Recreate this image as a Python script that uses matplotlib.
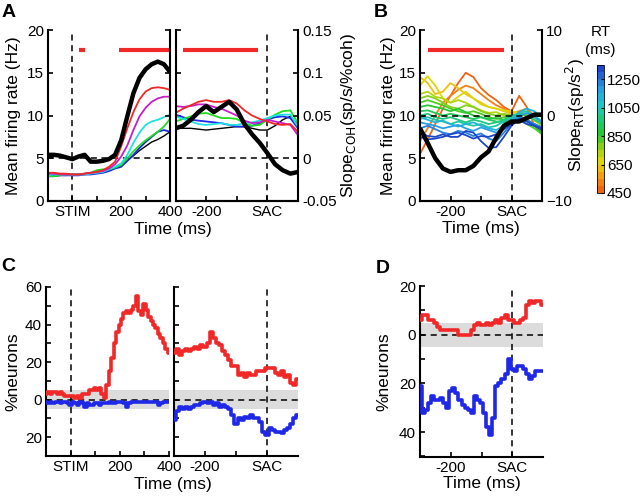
import numpy as np
import matplotlib
matplotlib.use('Agg')
import matplotlib.pyplot as plt
from matplotlib.colors import LinearSegmentedColormap, Normalize
import matplotlib.cm as cm

plt.rcParams['font.family'] = ['Liberation Sans', 'DejaVu Sans']
plt.rcParams['axes.linewidth'] = 1.5

# ---------------- data ----------------
# Panel A, stimulus-aligned (ms), firing rates (Hz) per coherence
t_stim = [-100, -75, -50, -25, 0, 25, 50, 75, 100, 125, 150, 175, 200, 225, 250, 275, 300, 325, 350, 375, 400]
a_stim_red = [3.3, 3.3, 3.2, 3.2, 3.1, 3.1, 3.2, 3.3, 3.4, 3.6, 4.0, 4.6, 6.4, 8.5, 10.4, 11.9, 12.8, 13.2, 13.3, 13.2, 13.0]
a_stim_magenta = [3.2, 3.2, 3.1, 3.1, 3.1, 3.1, 3.2, 3.3, 3.4, 3.5, 3.8, 4.3, 5.2, 6.5, 8.3, 9.9, 10.9, 11.6, 12.0, 12.2, 12.2]
a_stim_cyan = [3.0, 3.1, 3.1, 3.1, 3.1, 3.1, 3.1, 3.2, 3.3, 3.4, 3.7, 4.0, 4.4, 5.4, 6.8, 8.0, 8.9, 9.3, 9.5, 9.8, 10.1]
a_stim_green = [2.9, 2.9, 3.0, 3.1, 3.1, 3.1, 3.2, 3.3, 3.6, 3.7, 3.7, 3.9, 4.2, 5.0, 5.8, 6.5, 7.1, 7.6, 8.1, 8.7, 9.6]
a_stim_blue = [2.9, 2.9, 3.0, 3.0, 3.0, 3.0, 3.1, 3.1, 3.2, 3.3, 3.5, 3.8, 4.0, 4.7, 5.4, 6.2, 6.9, 7.5, 8.1, 8.3, 8.1]
a_stim_black = [2.9, 3.0, 3.0, 3.0, 3.1, 3.1, 3.1, 3.2, 3.3, 3.5, 3.7, 3.9, 4.1, 4.7, 5.3, 5.9, 6.4, 6.9, 7.2, 7.6, 8.1]
a_stim_slope = [0.004, 0.004, 0.003, 0.001, -0.001, 0.002, 0.004, -0.004, -0.004, -0.003, -0.001, 0.004, 0.021, 0.049, 0.076, 0.094, 0.104, 0.110, 0.113, 0.110, 0.101]

# Panel A, saccade-aligned
t_sac = [-300, -275, -250, -225, -200, -175, -150, -125, -100, -75, -50, -25, 0, 25, 50, 75, 100]
a_sac_red = [10.3, 10.8, 11.2, 11.6, 11.8, 11.6, 11.6, 11.8, 11.4, 10.6, 10.0, 9.6, 9.3, 9.0, 8.9, 9.0, 8.1]
a_sac_magenta = [11.1, 11.0, 11.1, 11.3, 11.3, 11.0, 10.8, 10.4, 10.0, 9.4, 9.1, 9.2, 9.5, 9.3, 9.1, 8.9, 7.7]
a_sac_cyan = [9.9, 9.6, 9.3, 9.0, 8.9, 9.0, 9.1, 8.9, 8.9, 9.1, 9.2, 9.4, 9.7, 10.0, 10.1, 10.1, 8.7]
a_sac_green = [9.3, 9.6, 9.9, 10.2, 10.3, 10.0, 9.7, 9.7, 9.6, 9.1, 8.8, 8.9, 9.5, 10.1, 10.5, 10.6, 9.1]
a_sac_blue = [10.1, 9.8, 9.5, 9.4, 9.3, 9.2, 9.1, 8.9, 8.7, 8.7, 8.8, 9.1, 9.5, 9.8, 9.9, 9.7, 8.5]
a_sac_black = [8.5, 8.5, 8.5, 8.4, 8.3, 8.4, 8.5, 8.6, 8.7, 8.7, 8.5, 8.3, 8.3, 8.8, 9.5, 9.9, 8.9]
a_sac_slope = [0.035, 0.038, 0.045, 0.054, 0.061, 0.054, 0.060, 0.066, 0.057, 0.040, 0.028, 0.018, 0.006, -0.007, -0.014, -0.018, -0.016]

# significance bars (ms)
a_sig_stim = [(28, 51), (193, 400)]
a_sig_sac = [(-275, -29)]
b_sig = [(-275, -25)]

# Panel B: rates per RT bin (saccade-aligned, t_sac)
b_rt = [450, 500, 600, 650, 700, 750, 800, 850, 900, 950, 1000, 1100, 1150, 1200, 1300, 1350]
b_rates = [
    [5.5, 7.2, 9.0, 10.8, 12.3, 13.8, 15.0, 14.5, 13.2, 12.4, 11.8, 11.0, 10.5, 12.3, 11.0, 8.8, 8.0],
    [7.0, 8.5, 10.0, 11.5, 12.3, 13.0, 13.5, 13.2, 12.5, 11.8, 11.2, 10.8, 10.3, 10.5, 10.8, 10.0, 9.0],
    [14.5, 13.8, 12.5, 12.8, 13.8, 13.2, 12.5, 12.0, 11.5, 11.0, 10.8, 10.5, 10.2, 10.0, 10.0, 9.5, 9.0],
    [13.5, 14.6, 13.5, 12.0, 11.5, 12.2, 12.8, 12.0, 11.3, 11.0, 10.8, 10.6, 10.5, 10.3, 10.0, 9.8, 9.2],
    [12.5, 12.8, 12.2, 12.0, 11.5, 11.8, 11.5, 11.0, 10.6, 10.3, 10.4, 10.0, 10.0, 10.2, 10.1, 9.4, 8.8],
    [12.0, 12.3, 12.0, 11.5, 11.0, 10.8, 11.2, 11.0, 10.5, 10.2, 10.0, 10.2, 10.0, 9.8, 9.5, 9.0, 8.5],
    [11.5, 11.8, 11.5, 11.2, 10.8, 10.5, 10.3, 10.5, 10.2, 9.8, 9.6, 9.8, 9.7, 9.5, 9.0, 8.5, 7.8],
    [11.0, 11.2, 11.0, 10.8, 10.5, 10.8, 10.4, 10.0, 9.8, 9.6, 9.7, 9.5, 9.4, 9.8, 9.5, 8.8, 8.0],
    [10.5, 10.6, 10.3, 10.0, 10.2, 10.0, 9.8, 9.6, 9.8, 9.5, 9.3, 9.2, 9.6, 9.8, 9.4, 9.0, 8.6],
    [10.0, 10.2, 9.8, 9.6, 9.8, 9.5, 9.2, 9.5, 9.3, 9.0, 9.2, 9.5, 10.0, 10.2, 10.0, 9.5, 9.0],
    [9.6, 9.8, 9.5, 9.3, 9.0, 9.3, 9.0, 8.8, 9.0, 8.6, 8.8, 9.3, 9.8, 10.3, 10.5, 10.0, 9.3],
    [9.8, 9.5, 9.2, 9.4, 9.0, 8.7, 9.0, 9.2, 8.8, 8.5, 8.3, 8.8, 9.5, 10.4, 10.8, 10.5, 9.8],
    [9.2, 9.0, 8.8, 8.5, 8.7, 8.9, 8.5, 8.2, 8.6, 8.3, 8.0, 8.5, 9.3, 10.0, 10.3, 9.8, 9.2],
    [8.5, 8.8, 8.4, 8.0, 7.8, 8.2, 8.0, 7.6, 7.9, 7.3, 7.0, 8.0, 9.0, 9.8, 9.5, 9.0, 8.6],
    [8.0, 7.6, 7.5, 7.8, 7.5, 7.5, 8.2, 8.0, 7.0, 6.2, 6.3, 7.5, 8.8, 9.6, 9.3, 8.8, 8.3],
    [7.5, 7.2, 7.3, 7.5, 7.8, 8.0, 7.7, 7.3, 7.6, 7.5, 7.8, 8.4, 9.0, 9.5, 9.0, 8.8, 8.5],
]
b_slope = [-1.5, -3.2, -5.0, -6.2, -6.6, -6.4, -6.4, -5.9, -4.9, -4.2, -2.6, -1.2, -0.7, -0.7, -0.3, 0.1, 0.1]

# Panel C: % neurons (positive = red, negative = blue)
t_c_stim = list(range(-100, 401, 10))
c_stim_red = [3, 4, 3, 4, 4, 3, 4, 3, 2, 2, 2, 2, 1, 2, 1, 3, 3, 3, 5, 5, 6, 5, 6, 3, 1, 8, 15, 22, 30, 36,
              40, 43, 46, 47, 46, 48, 50, 55, 47, 45, 51, 48, 44, 42, 40, 38, 35, 33, 30, 27, 25]
c_stim_blue = [-1, -2, -1, -2, -1, -1, -2, -1, -1, -2, -3, -1, -2, -3, -1, -2, -4, -2, -3, -3, -2, -2, -3, -2, -2, -2,
               -1, -2, -2, -1, -1, -1, -2, -4, -2, -1, -1, -1, -1, -1, -1, -1, -1, -1, -1, -1, -3, -2, -1, -1, -1]
t_c_sac = list(range(-300, 101, 10))
c_sac_red = [25, 27, 24, 26, 27, 26, 27, 28, 27, 29, 28, 30, 36, 33, 30, 29, 26, 24, 21, 18, 18,
             13, 14, 12, 14, 13, 13, 15, 15, 15, 17, 17, 17, 14, 13, 15, 12, 13, 9, 8, 11]
c_sac_blue = [-11, -6, -4, -5, -4, -5, -4, -3, -3, -2, -1, -2, -1, -3, -2, -4, -3, -4, -5, -8, -13,
              -10, -11, -9, -10, -8, -10, -10, -12, -17, -19, -15, -16, -17, -17, -18, -16, -15, -13, -10, -8]

# Panel D
t_d = list(range(-300, 101, 10))
d_red = [6, 8, 8, 6, 6, 5, 3, 2, 2, 2, 2, 2, 2, 0, 0, 0, 0, 2, 4, 5, 4,
         4, 5, 4, 5, 6, 5, 7, 8, 6, 6, 5, 5, 6, 7, 12, 14, 13, 14, 14, 12]
d_blue = [-21, -32, -31, -28, -25, -27, -27, -26, -28, -30, -23, -22, -24, -27, -29, -30, -31, -32, -25, -27, -28,
          -32, -38, -41, -34, -21, -20, -18, -16, -10, -14, -15, -13, -13, -14, -16, -18, -17, -15, -15, -15]

# ---------------- style ----------------
RED = '#f02828'
MAG = '#c81ec8'
CYA = '#1ee1e1'
GRN = '#1edc1e'
BLU = '#1e28e6'
FS_T = 11
FS_L = 12.5

rt_cmap = LinearSegmentedColormap.from_list('rt', [
    (0.00, '#f06414'), (0.12, '#f5a010'), (0.22, '#e6d80a'), (0.33, '#9cd214'),
    (0.45, '#28c828'), (0.58, '#1ec878'), (0.70, '#1ec8c8'), (0.82, '#28a0e6'), (1.00, '#1e46c8')], N=18)
rt_norm = Normalize(450, 1350)

W, H = 640, 497
fig = plt.figure(figsize=(6.4, 4.97), dpi=100)


def rect(x0, y0, x1, y1):
    return [x0 / W, 1 - y1 / H, (x1 - x0) / W, (y1 - y0) / H]


def style(ax, left=True, right=False):
    ax.spines['top'].set_visible(False)
    ax.spines['right'].set_visible(right)
    ax.spines['left'].set_visible(left)
    ax.tick_params(direction='in', length=3.5, width=1.2, labelsize=FS_T, pad=3)
    ax.patch.set_alpha(0)


DASH = dict(color='k', ls='--', lw=1.1, dashes=(4, 3))

# ---------- Panel A ----------
axA1 = fig.add_axes(rect(48, 30, 170, 201))
axA2 = fig.add_axes(rect(175.5, 30, 298, 201))
for ax in (axA1, axA2):
    ax.set_ylim(0, 20)
    ax.axhline(5, **DASH)
    ax.axvline(0, **DASH)
axA1.set_xlim(-100, 400)
axA2.set_xlim(-300, 100)
for y, c in zip([a_stim_black, a_stim_blue, a_stim_green, a_stim_cyan, a_stim_magenta, a_stim_red],
                ['k', BLU, GRN, CYA, MAG, RED]):
    axA1.plot(t_stim, y, color=c, lw=1.3 if c != 'k' else 1.0)
for y, c in zip([a_sac_black, a_sac_blue, a_sac_green, a_sac_cyan, a_sac_magenta, a_sac_red],
                ['k', BLU, GRN, CYA, MAG, RED]):
    axA2.plot(t_sac, y, color=c, lw=1.3 if c != 'k' else 1.0)
for a, b in a_sig_stim:
    axA1.plot([a, b], [17.7, 17.7], color=RED, lw=3, solid_capstyle='butt')
for a, b in a_sig_sac:
    axA2.plot([a, b], [17.7, 17.7], color=RED, lw=3, solid_capstyle='butt')

style(axA1)
style(axA2)
axA1.set_yticks([0, 5, 10, 15, 20])
axA1.set_xticks([0, 100, 200, 300, 400])
axA1.set_xticklabels(['STIM', '', '200', '', '400'])
axA1.set_ylabel('Mean firing rate (Hz)', fontsize=FS_L)
axA1.yaxis.set_label_coords(-0.22, 0.5)
axA2.set_yticks([0, 5, 10, 15, 20])
axA2.set_yticklabels([])
axA2.set_xticks([-200, -100, 0])
axA2.set_xticklabels(['-200', '', 'SAC'])

axA1t = axA1.twinx()
axA2t = axA2.twinx()
for ax in (axA1t, axA2t):
    ax.set_ylim(-0.05, 0.15)
    ax.set_yticks([-0.05, 0, 0.05, 0.1, 0.15])
    style(ax, left=False, right=True)
axA1t.set_yticklabels([])
axA2t.set_yticklabels(['-0.05', '0', '0.05', '0.1', '0.15'])
axA1t.plot(t_stim, a_stim_slope, color='k', lw=3.2, solid_capstyle='butt')
axA2t.plot(t_sac, a_sac_slope, color='k', lw=3.2, solid_capstyle='butt')
axA2t.set_ylabel(r'Slope$_{\mathrm{COH}}$(sp/s/%coh)', fontsize=FS_L)
axA2t.yaxis.set_label_coords(1.335, 0.5)
fig.text(173 / W, 1 - 230 / H, 'Time (ms)', ha='center', va='center', fontsize=FS_L)

# ---------- Panel B ----------
axB = fig.add_axes(rect(420, 30, 542, 201))
axB.set_xlim(-300, 100)
axB.set_ylim(0, 20)
for rt, rates in zip(b_rt, b_rates):
    axB.plot(t_sac, rates, color=rt_cmap(rt_norm(rt)), lw=1.3)
axB.axhline(10, **DASH)
axB.axvline(0, **DASH)
for a, b in b_sig:
    axB.plot([a, b], [17.7, 17.7], color=RED, lw=3, solid_capstyle='butt')
style(axB)
axB.set_yticks([0, 5, 10, 15, 20])
axB.set_xticks([-200, -100, 0])
axB.set_xticklabels(['-200', '', 'SAC'])
axB.set_ylabel('Mean firing rate (Hz)', fontsize=FS_L)
axB.yaxis.set_label_coords(-0.2, 0.5)
axB.set_xlabel('Time (ms)', fontsize=FS_L, labelpad=1)
axBt = axB.twinx()
axBt.set_ylim(-10, 10)
axBt.set_yticks([-10, 0, 10])
style(axBt, left=False, right=True)
axBt.plot(t_sac, b_slope, color='k', lw=3.2, solid_capstyle='butt')
axBt.set_ylabel(r'Slope$_{\mathrm{RT}}$(sp/s$^2$)', fontsize=FS_L)
axBt.yaxis.set_label_coords(1.18, 0.5)

cax = fig.add_axes(rect(597, 65, 604, 193))
sm = cm.ScalarMappable(norm=rt_norm, cmap=rt_cmap)
cb = fig.colorbar(sm, cax=cax, ticks=[450, 650, 850, 1050, 1250])
cb.outline.set_linewidth(0.6)
cax.tick_params(direction='in', length=2, width=0.8, labelsize=FS_T, pad=2)
fig.text(600.5 / W, 1 - 41 / H, 'RT\n(ms)', ha='center', va='center', fontsize=FS_T, linespacing=1.3)

# ---------- Panel C ----------
axC1 = fig.add_axes(rect(46, 287, 169, 456))
axC2 = fig.add_axes(rect(174, 287, 298, 456))
for ax in (axC1, axC2):
    ax.set_ylim(-30, 60)
    ax.axhspan(-5, 5, color='#dcdcdc', lw=0, zorder=0)
    ax.axhline(0, zorder=1, **DASH)
    ax.axvline(0, zorder=1, **DASH)
axC1.set_xlim(-100, 400)
axC2.set_xlim(-300, 100)
axC1.plot(t_c_stim, c_stim_red, color=RED, lw=2.6, drawstyle='steps-mid', zorder=3)
axC1.plot(t_c_stim, c_stim_blue, color=BLU, lw=2.6, drawstyle='steps-mid', zorder=3)
axC2.plot(t_c_sac, c_sac_red, color=RED, lw=2.6, drawstyle='steps-mid', zorder=3)
axC2.plot(t_c_sac, c_sac_blue, color=BLU, lw=2.6, drawstyle='steps-mid', zorder=3)
style(axC1)
style(axC2)
c_ticks = [-30, -20, -10, 0, 10, 20, 30, 40, 50, 60]
axC1.set_yticks(c_ticks)
axC1.set_yticklabels(['', '20', '', '0', '', '20', '', '40', '', '60'])
axC2.set_yticks(c_ticks)
axC2.set_yticklabels([])
axC1.set_xticks([0, 100, 200, 300, 400])
axC1.set_xticklabels(['STIM', '', '200', '', '400'])
axC2.set_xticks([-200, -100, 0])
axC2.set_xticklabels(['-200', '', 'SAC'])
axC1.set_ylabel('%neurons', fontsize=FS_L)
axC1.yaxis.set_label_coords(-0.21, 0.5)
fig.text(173 / W, 1 - 484 / H, 'Time (ms)', ha='center', va='center', fontsize=FS_L)

# ---------- Panel D ----------
axD = fig.add_axes(rect(420, 286, 543, 456.5))
axD.set_xlim(-300, 100)
axD.set_ylim(-50, 20)
axD.axhspan(-5, 5, color='#dcdcdc', lw=0, zorder=0)
axD.axhline(0, zorder=1, **DASH)
axD.axvline(0, zorder=1, **DASH)
axD.plot(t_d, d_red, color=RED, lw=2.6, drawstyle='steps-mid', zorder=3)
axD.plot(t_d, d_blue, color=BLU, lw=2.6, drawstyle='steps-mid', zorder=3)
style(axD)
axD.set_yticks([-50, -40, -30, -20, -10, 0, 10, 20])
axD.set_yticklabels(['', '40', '', '20', '', '0', '', '20'])
axD.set_xticks([-200, -100, 0])
axD.set_xticklabels(['-200', '', 'SAC'])
axD.set_ylabel('%neurons', fontsize=FS_L)
axD.yaxis.set_label_coords(-0.23, 0.5)
axD.set_xlabel('Time (ms)', fontsize=FS_L, labelpad=1)

# panel letters
for lbl, x, y in [('A', 2, 4), ('B', 374, 4), ('C', 1, 258), ('D', 376, 260)]:
    fig.text(x / W, 1 - y / H, lbl, fontsize=14, fontweight='bold', ha='left', va='top')

fig.savefig('out.png', dpi=100)
